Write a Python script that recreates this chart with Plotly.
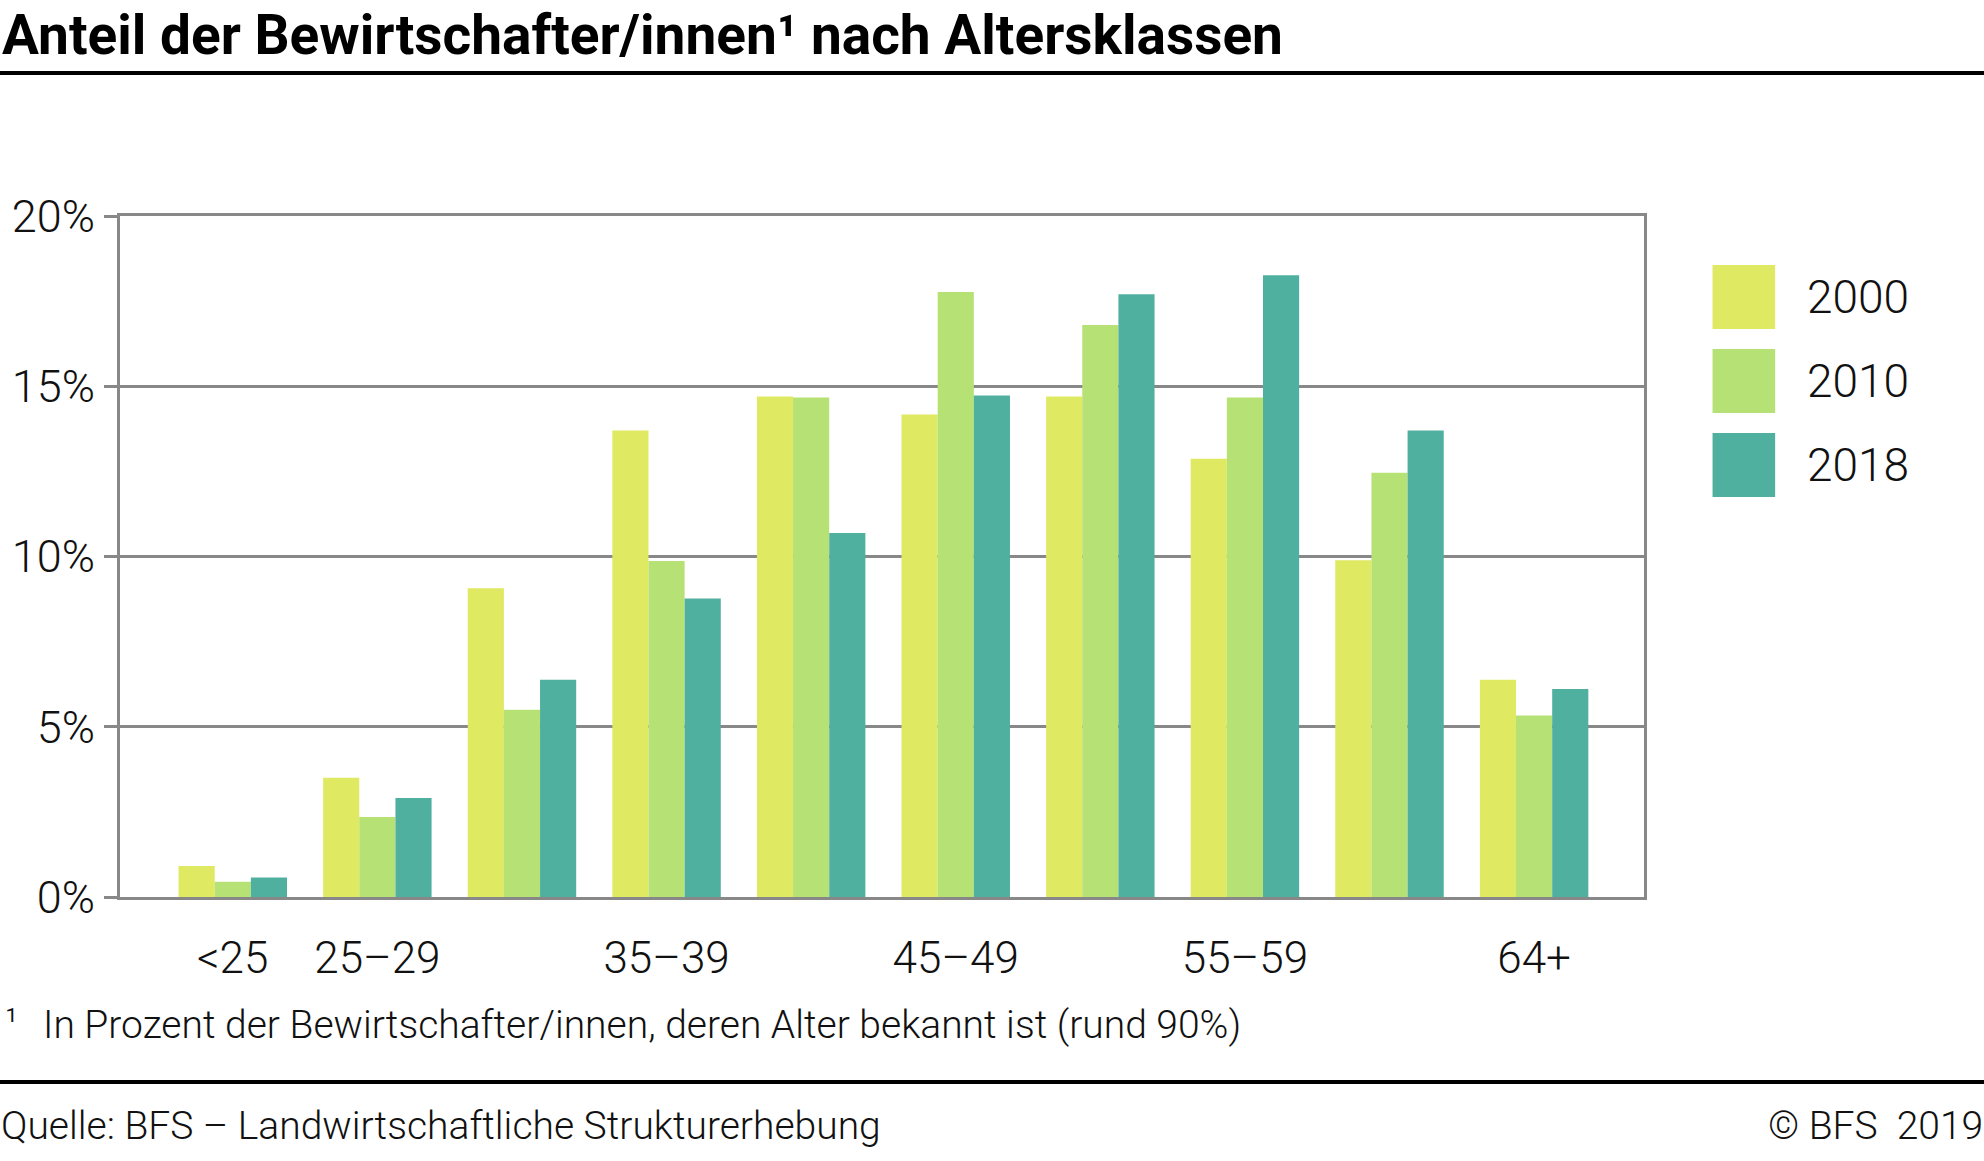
import plotly.graph_objects as go

categories = ["<25", "25–29", "30–34", "35–39", "40–44", "45–49", "50–54", "55–59", "60–64", "64+"]
shown_ticks = ["<25", "25–29", "35–39", "45–49", "55–59", "64+"]
years = ["2000", "2010", "2018"]
v2000 = [0.91, 3.50, 9.07, 13.70, 14.70, 14.17, 14.70, 12.87, 9.89, 6.38]
v2010 = [0.45, 2.35, 5.50, 9.87, 14.67, 17.77, 16.80, 14.67, 12.46, 5.33]
v2018 = [0.57, 2.91, 6.38, 8.77, 10.69, 14.73, 17.70, 18.26, 13.70, 6.11]
colors = ["#DFE962", "#B6E174", "#50B09F"]
series = [v2000, v2010, v2018]

title = "Anteil der Bewirtschafter/innen¹ nach Altersklassen"
footnote = "In Prozent der Bewirtschafter/innen, deren Alter bekannt ist (rund 90%)"
source = "Quelle: BFS – Landwirtschaftliche Strukturerhebung"
copyright_txt = "© BFS  2019"

W, H = 1984, 1161
ML, MR, MT, MB = 110, 340, 216, 264
PW, PH = W - ML - MR, H - MT - MB


def px(x):
    return (x - ML) / PW


def py(y):
    return (H - MB - y) / PH


GRAY = "#888888"
FONT = "Roboto"
TXT = "#111111"

fig = go.Figure()
for name, vals, col in zip(years, series, colors):
    fig.add_trace(go.Bar(x=categories, y=vals, name=name, marker_color=col,
                         marker_line_width=0, showlegend=False))

fig.update_layout(
    width=W, height=H,
    margin=dict(l=ML, r=MR, t=MT, b=MB),
    paper_bgcolor="white", plot_bgcolor="white",
    barmode="group", bargap=0.25, bargroupgap=0,
    font=dict(family=FONT, size=44, color=TXT, weight=300),
)
fig.update_xaxes(
    type="category", categoryorder="array", categoryarray=categories,
    range=[-0.78, 9.76],
    tickmode="array", tickvals=shown_ticks, ticktext=shown_ticks,
    showline=True, linecolor=GRAY, linewidth=3, mirror=True,
    showgrid=False, ticks="", ticklabelstandoff=20,
    tickfont=dict(family=FONT, size=44, color=TXT, weight=300),
)
fig.update_yaxes(
    range=[0, 20], tickvals=[0, 5, 10, 15, 20],
    ticktext=["0%", "5%", "10%", "15%", "20%"],
    showline=True, linecolor=GRAY, linewidth=3, mirror=True,
    showgrid=True, gridcolor=GRAY, gridwidth=2.5,
    ticks="outside", ticklen=13, tickcolor=GRAY, tickwidth=2.5,
    zeroline=False,
    tickfont=dict(family=FONT, size=45, color=TXT, weight=300),
)

shapes = []
annotations = []
annotations.append(dict(text="<b>" + title + "</b>", xref="paper", yref="paper",
                        x=px(-11), y=py(69), xanchor="left", yanchor="bottom",
                        showarrow=False,
                        font=dict(family=FONT, size=55, color="#000000")))
for yy in (73, 1082):
    shapes.append(dict(type="line", xref="paper", yref="paper",
                       x0=px(-20), x1=px(W + 20), y0=py(yy), y1=py(yy),
                       line=dict(color="#000000", width=4)))
annotations.append(dict(text="¹", xref="paper", yref="paper", x=px(-8), y=py(1022),
                        xanchor="left", yanchor="middle", showarrow=False,
                        font=dict(family=FONT, size=36, color=TXT, weight=300)))
annotations.append(dict(text=footnote, xref="paper", yref="paper", x=px(30), y=py(1025),
                        xanchor="left", yanchor="middle", showarrow=False,
                        font=dict(family=FONT, size=39, color=TXT, weight=300)))
annotations.append(dict(text=source, xref="paper", yref="paper", x=px(-12), y=py(1126),
                        xanchor="left", yanchor="middle", showarrow=False,
                        font=dict(family=FONT, size=39, color=TXT, weight=300)))
annotations.append(dict(text=copyright_txt, xref="paper", yref="paper", x=px(W + 3), y=py(1126),
                        xanchor="right", yanchor="middle", showarrow=False,
                        font=dict(family=FONT, size=39, color=TXT, weight=300)))
leg_y = [297, 381, 465]
for name, col, cy in zip(years, colors, leg_y):
    shapes.append(dict(type="rect", xref="paper", yref="paper",
                       x0=px(1713), x1=px(1776), y0=py(cy - 32), y1=py(cy + 32),
                       fillcolor=col, line=dict(width=0)))
    annotations.append(dict(text=name, xref="paper", yref="paper", x=px(1806), y=py(cy),
                            xanchor="left", yanchor="middle", showarrow=False,
                            font=dict(family=FONT, size=46, color=TXT, weight=300)))

fig.update_layout(shapes=shapes, annotations=annotations)
fig.write_html("out.html", config={"displayModeBar": False},
               post_script="document.body.style.margin='0';document.body.style.padding='0';")
